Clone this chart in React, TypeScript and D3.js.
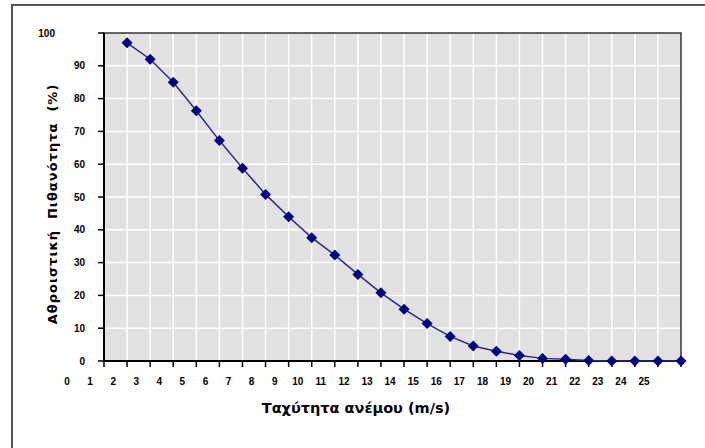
import React from 'react';
import * as d3 from 'd3';

// wind speed (m/s) and cumulative probability (%)
const speeds = [1, 2, 3, 4, 5, 6, 7, 8, 9, 10, 11, 12, 13, 14, 15, 16, 17, 18, 19, 20, 21, 22, 23, 24, 25];
const probability = [97, 92, 85, 76.3, 67.2, 58.8, 50.8, 44, 37.6, 32.3, 26.4, 20.8, 15.8, 11.4, 7.5, 4.6, 3.0, 1.7, 0.8, 0.5, 0.15, 0, 0, 0, 0];
const xTickLabels = d3.range(0, 26).map(String);
const yTicks = [0, 10, 20, 30, 40, 50, 60, 70, 80, 90, 100];

const width = 705;
const height = 448;
const margin = { left: 104, top: 33, right: 24, bottom: 87 };
const font = '"Liberation Sans", Arial, sans-serif';
const titleFont = '"DejaVu Sans", Verdana, sans-serif';

const App: React.FC = () => {
  const plotW = width - margin.left - margin.right;
  const plotH = height - margin.top - margin.bottom;

  const x = d3.scaleLinear().domain([0, 25]).range([0, plotW]);
  const y = d3.scaleLinear().domain([0, 100]).range([plotH, 0]);

  const points = speeds.map((s, i) => ({ s, p: probability[i] }));
  const line = d3.line<{ s: number; p: number }>()
    .x(d => x(d.s))
    .y(d => y(d.p));

  const diamond = 'M0,-5.5L5.5,0L0,5.5L-5.5,0Z';

  return (
    <svg width={width} height={height} style={{ position: 'absolute', left: 0, top: 0 }}>
      <rect x={0} y={0} width={width} height={height} fill="#fff" />
      {/* outer chart frame */}
      <rect x={12} y={5} width={width + 20} height={height + 20} fill="none" stroke="#555" strokeWidth={2} />

      <g transform={`translate(${margin.left},${margin.top})`}>
        <rect x={0} y={0} width={plotW} height={plotH} fill="#e1e1e1" />
        {/* gridlines */}
        {d3.range(1, 25).map(v => (
          <line key={'vx' + v} x1={x(v)} x2={x(v)} y1={0} y2={plotH} stroke="#fff" strokeWidth={1.5} />
        ))}
        {yTicks.slice(1, -1).map(v => (
          <line key={'hy' + v} x1={0} x2={plotW} y1={y(v)} y2={y(v)} stroke="#fff" strokeWidth={1.5} />
        ))}
        {/* plot border */}
        <rect x={0} y={0} width={plotW} height={plotH} fill="none" stroke="#333" strokeWidth={1.5} />
        <line x1={0} x2={0} y1={0} y2={plotH} stroke="#000" strokeWidth={2} />
        <line x1={0} x2={plotW} y1={plotH} y2={plotH} stroke="#000" strokeWidth={2} />

        {/* y ticks */}
        {yTicks.map(v => (
          <g key={'yt' + v}>
            <line x1={-6} x2={0} y1={y(v)} y2={y(v)} stroke="#000" strokeWidth={1.5} />
            <text
              x={v === 100 ? -49 : -19}
              y={y(v)}
              dy="0.35em"
              textAnchor="end"
              fontFamily={font}
              fontSize={10}
              fontWeight="bold"
              fill="#000"
            >
              {v}
            </text>
          </g>
        ))}

        {/* x ticks */}
        {xTickLabels.map((lbl, i) => (
          <g key={'xt' + i}>
            <line x1={x(i)} x2={x(i)} y1={plotH} y2={plotH + 6} stroke="#000" strokeWidth={1.5} />
            <text
              x={x(i) - 37}
              y={plotH + 24}
              textAnchor="middle"
              fontFamily={font}
              fontSize={10}
              fontWeight="bold"
              fill="#000"
            >
              {lbl}
            </text>
          </g>
        ))}

        {/* series */}
        <path d={line(points) || ''} fill="none" stroke="#2a2a88" strokeWidth={1.5} />
        {points.map(d => (
          <path key={'m' + d.s} d={diamond} transform={`translate(${x(d.s)},${y(d.p)})`} fill="#000080" />
        ))}
      </g>

      <text
        x={356}
        y={413}
        textAnchor="middle"
        fontFamily={titleFont}
        fontSize={14.5}
        fontWeight="bold"
        fill="#000"
      >
        Ταχύτητα ανέμου (m/s)
      </text>
      <text
        transform="translate(57,204) rotate(-90)"
        textAnchor="middle"
        fontFamily={titleFont}
        fontSize={13}
        fontWeight="bold"
        letterSpacing={1}
        fill="#000"
        style={{ whiteSpace: 'pre' }}
      >
        {'Αθροιστική  Πιθανότητα  (%)'}
      </text>
    </svg>
  );
};

export default App;
